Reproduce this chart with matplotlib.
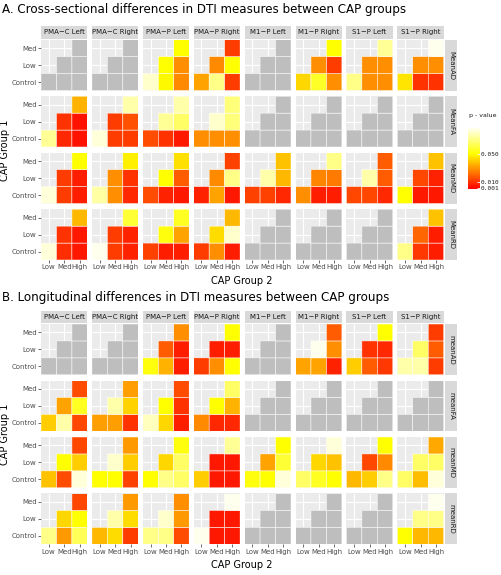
import numpy as np
import matplotlib
matplotlib.use('Agg')
import matplotlib.pyplot as plt
from matplotlib.colors import LinearSegmentedColormap, Normalize, ListedColormap
from matplotlib.cm import ScalarMappable

# ---------------- data ----------------
regions = ['PMA\u2212C Left', 'PMA\u2212C Right', 'PMA\u2212P Left', 'PMA\u2212P Right',
           'M1\u2212P Left', 'M1\u2212P Right', 'S1\u2212P Left', 'S1\u2212P Right']
groups_x = ['Low', 'Med', 'High']          # CAP Group 2
groups_y = ['Control', 'Low', 'Med']       # CAP Group 1
pairs = [('Control', 'Low'), ('Control', 'Med'), ('Control', 'High'),
         ('Low', 'Med'), ('Low', 'High'), ('Med', 'High')]
NA = None   # comparison not significant overall (grey tile)

measures_A = ['MeanAD', 'MeanFA', 'MeanMD', 'MeanRD']
measures_B = ['meanAD', 'meanFA', 'meanMD', 'meanRD']

# p-values per region, in order of `pairs`
cross_AD = [NA, NA,
            [0.080, 0.049, 0.027, 0.050, 0.028, 0.050],
            [0.032, 0.070, 0.012, 0.027, 0.050, 0.012],
            NA,
            [0.042, 0.056, 0.028, 0.028, 0.012, 0.050],
            [0.070, 0.028, 0.028, 0.028, 0.028, 0.072],
            [0.045, 0.010, 0.010, 0.028, 0.028, 0.085]]
cross_FA = [[0.072, 0.008, 0.004, 0.010, 0.004, 0.035],
            [0.082, 0.012, 0.012, 0.012, 0.016, 0.075],
            [0.015, 0.010, 0.005, 0.072, 0.065, 0.075],
            [0.028, 0.028, 0.028, 0.080, 0.068, 0.068],
            NA, NA, NA, NA]
cross_MD = [[0.082, 0.012, 0.006, 0.012, 0.006, 0.050],
            [0.074, 0.028, 0.008, 0.028, 0.010, 0.047],
            [0.015, 0.007, 0.005, 0.050, 0.018, 0.044],
            [0.007, 0.032, 0.005, 0.027, 0.070, 0.013],
            [0.013, 0.013, 0.008, 0.075, 0.036, 0.038],
            [0.028, 0.006, 0.006, 0.026, 0.024, 0.070],
            [0.014, 0.014, 0.008, 0.075, 0.018, 0.018],
            [0.050, 0.005, 0.005, 0.014, 0.007, 0.038]]
cross_RD = [[0.082, 0.009, 0.005, 0.010, 0.005, 0.036],
            [0.085, 0.012, 0.007, 0.012, 0.007, 0.058],
            [0.013, 0.006, 0.006, 0.052, 0.032, 0.055],
            [0.012, 0.028, 0.006, 0.043, 0.080, 0.036],
            NA, NA, NA,
            [0.070, 0.011, 0.006, 0.020, 0.006, 0.038]]

long_AD = [NA, NA,
           [0.052, 0.035, 0.006, 0.018, 0.006, 0.028],
           [0.012, 0.028, 0.050, 0.006, 0.006, 0.050],
           NA,
           [0.032, 0.032, 0.007, 0.085, 0.028, 0.018],
           [0.040, 0.018, 0.011, 0.010, 0.008, 0.050],
           [0.075, 0.075, 0.012, 0.065, 0.018, 0.012]]
long_FA = [[0.040, 0.075, 0.014, 0.032, 0.055, 0.015],
           [0.031, 0.031, 0.010, 0.075, 0.041, 0.031],
           [0.078, 0.042, 0.006, 0.050, 0.010, 0.015],
           [0.027, 0.008, 0.008, 0.050, 0.035, 0.065],
           NA, NA, NA, NA]
long_MD = [[0.038, 0.015, 0.082, 0.050, 0.040, 0.014],
           [0.050, 0.050, 0.013, 0.080, 0.040, 0.030],
           [0.050, 0.070, 0.065, 0.042, 0.065, 0.052],
           [0.040, 0.005, 0.005, 0.005, 0.005, 0.072],
           [0.052, 0.050, 0.082, 0.032, 0.058, 0.050],
           [0.065, 0.055, 0.050, 0.042, 0.038, 0.082],
           [0.036, 0.040, 0.070, 0.014, 0.027, 0.050],
           [0.065, 0.037, 0.082, 0.065, 0.065, 0.033]]
long_RD = [[0.070, 0.030, 0.063, 0.042, 0.050, 0.014],
           [0.036, 0.043, 0.012, 0.075, 0.043, 0.030],
           [0.070, 0.070, 0.015, 0.080, 0.030, 0.028],
           [0.085, 0.005, 0.005, 0.005, 0.005, 0.085],
           NA, NA, NA,
           [0.050, 0.036, 0.036, 0.070, 0.070, 0.085]]

cross_data = [cross_AD, cross_FA, cross_MD, cross_RD]
long_data = [long_AD, long_FA, long_MD, long_RD]

legend_ticks = [0.001, 0.010, 0.050]
p_max = 0.086

title_A = 'A. Cross-sectional differences in DTI measures between CAP groups'
title_B = 'B. Longitudinal differences in DTI measures between CAP groups'
xlabel = 'CAP Group 2'
ylabel = 'CAP Group 1'

# ---------------- style ----------------
W, H = 502, 575
fig = plt.figure(figsize=(W / 100, H / 100), dpi=100)
fig.patch.set_facecolor('white')

cmap = LinearSegmentedColormap.from_list(
    'pval', [(0.0, '#FF0000'), (0.05 / p_max, '#FFFF00'), (1.0, '#FFFFF2')])
norm = Normalize(vmin=0.0, vmax=p_max)
grey_cmap = ListedColormap(['#BEBEBE'])

PX0, PW, PITCH = 41.0, 46.4, 50.9
PH, RPITCH = 50.8, 56.5
STRIP_H = 12.3
RSTRIP_W = 12.6

TXT = 5.0


def px_axes(x, y, w, h):
    return fig.add_axes([x / W, 1 - (y + h) / H, w / W, h / H])


def draw_block(top, data, measures):
    for r, meas in enumerate(measures):
        y0 = top + r * RPITCH
        for c, reg in enumerate(regions):
            x0 = PX0 + c * PITCH
            ax = px_axes(x0, y0, PW, PH)
            ax.set_facecolor('#EBEBEB')
            Z = np.full((3, 3), np.nan)
            G = np.full((3, 3), np.nan)
            vals = data[r][c]
            for k, (g1, g2) in enumerate(pairs):
                i, j = groups_y.index(g1), groups_x.index(g2)
                if vals is None:
                    G[i, j] = 1.0
                else:
                    Z[i, j] = vals[k]
            edges = np.arange(4) - 0.5
            ax.pcolor(edges, edges, np.ma.masked_invalid(G), cmap=grey_cmap,
                      edgecolors='white', linewidth=0.35, zorder=2)
            ax.pcolor(edges, edges, np.ma.masked_invalid(Z), cmap=cmap, norm=norm,
                      edgecolors='white', linewidth=0.35, zorder=2)
            ax.set_xlim(-0.5, 2.5)
            ax.set_ylim(-0.5, 2.5)
            ax.set_xticks(range(3))
            ax.set_yticks(range(3))
            ax.grid(True, color='white', linewidth=0.8)
            ax.set_axisbelow(True)
            for s in ax.spines.values():
                s.set_visible(False)
            ax.tick_params(length=2.0, width=0.5, color='#333333', pad=1.2,
                           labelsize=TXT, labelcolor='#4D4D4D')
            if c == 0:
                ax.set_yticklabels(groups_y)
            else:
                ax.tick_params(axis='y', length=0, labelleft=False)
            if r == len(measures) - 1:
                ax.set_xticklabels(groups_x)
            else:
                ax.tick_params(axis='x', length=0, labelbottom=False)
            # column strips
            if r == 0:
                sax = px_axes(x0, y0 - STRIP_H - 1.2, PW, STRIP_H)
                sax.set_facecolor('#D9D9D9')
                sax.set_xticks([]); sax.set_yticks([])
                for s in sax.spines.values():
                    s.set_visible(False)
                sax.text(0.5, 0.5, reg, ha='center', va='center', fontsize=TXT,
                         color='#1A1A1A', transform=sax.transAxes)
        # row strip
        rx = PX0 + 7 * PITCH + PW + 1.2
        rax = px_axes(rx, y0, RSTRIP_W, PH)
        rax.set_facecolor('#D9D9D9')
        rax.set_xticks([]); rax.set_yticks([])
        for s in rax.spines.values():
            s.set_visible(False)
        rax.text(0.5, 0.5, meas, ha='center', va='center', fontsize=TXT,
                 color='#1A1A1A', rotation=-90, transform=rax.transAxes)
    # axis titles
    block_h = 3 * RPITCH + PH
    fig.text(242 / W, 1 - (top + block_h + 20.5) / H, xlabel, ha='center',
             va='center', fontsize=7, color='black')
    fig.text(5.5 / W, 1 - (top + block_h / 2) / H, ylabel, ha='center',
             va='center', fontsize=7, rotation=90, color='black')


fig.text(2 / W, 1 - 9 / H, title_A, ha='left', va='center', fontsize=8.6)
draw_block(39.7, cross_data, measures_A)

fig.text(2 / W, 1 - 297 / H, title_B, ha='left', va='center', fontsize=8.6)
draw_block(324.0, long_data, measures_B)

# legend (panel A)
fig.text(469 / W, 1 - 116 / H, 'p - value', ha='left', va='center', fontsize=4.5,
         color='#1A1A1A')
cax = px_axes(468, 128, 12, 61)
cb = fig.colorbar(ScalarMappable(norm=norm, cmap=cmap), cax=cax)
cb.outline.set_visible(False)
cb.set_ticks(legend_ticks)
cb.set_ticklabels(['%.3f' % t for t in legend_ticks])
cax.tick_params(length=2.5, width=0.6, color='white', direction='in', pad=0.8,
                labelsize=4.4)
for lab in cax.get_yticklabels():
    lab.set_family('DejaVu Sans Mono')
    lab.set_color('#1A1A1A')

fig.savefig('out.png', dpi=100, facecolor='white')
